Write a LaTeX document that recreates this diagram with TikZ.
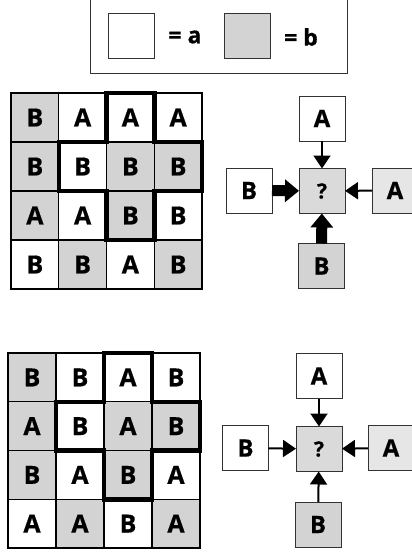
\documentclass[tikz,border=0pt]{standalone}
\usepackage{fontspec}
\setmainfont{Open Sans}[BoldFeatures={FakeBold=0.6}]
\usetikzlibrary{arrows.meta}
\definecolor{cellgray}{HTML}{D3D3D3}
\definecolor{qgray}{HTML}{DADADA}
\definecolor{lightgray2}{HTML}{E6E6E6}
\definecolor{boxline}{HTML}{333333}
\tikzset{
  cellbox/.style={draw=black, line width=1.1pt, minimum width=47.75pt, minimum height=49pt, inner sep=0pt, outer sep=0pt, font=\fontsize{25}{25}\selectfont\bfseries},
  cellboxb/.style={cellbox, minimum width=48pt, minimum height=48.75pt},
  plusline/.style={line width=4.5pt, line join=miter, line cap=rect},
  diabox/.style={draw=boxline, line width=1pt, minimum width=46pt, minimum height=45pt, inner sep=0pt, outer sep=0pt, font=\fontsize{24}{24}\selectfont\bfseries},
  thinarrow/.style={line width=2pt, -{Triangle[length=13pt, width=17pt]}},
  thickarrow/.style={line width=11pt, -{Triangle[length=14pt, width=22pt]}},
  legsq/.style={draw=boxline, line width=0.9pt, minimum width=46pt, minimum height=45pt, inner sep=0pt},
  legtext/.style={font=\fontsize{23}{23}\selectfont\bfseries, inner sep=0pt}
}
\begin{document}
\begin{tikzpicture}[x=1pt,y=-1pt]
\useasboundingbox (0,0) rectangle (412,552);
\clip (0,0) rectangle (412,552);
% legend
\draw[draw=boxline, line width=0.9pt] (90,-5) rectangle (347,73);
\node[legsq, fill=white] (lega) at (131,35.5) {};
\node[legtext] (legat) at (185,37) {= a};
\node[legsq, fill=cellgray] (legb) at (247.5,35.5) {};
\node[legtext] (legbt) at (301,37) {= b};

% grid 1
\foreach \r/\c/\f/\t in {
 1/1/cellgray/B, 1/2/white/A, 1/3/white/A, 1/4/white/A,
 2/1/cellgray/B, 2/2/white/B, 2/3/cellgray/B, 2/4/cellgray/B,
 3/1/cellgray/A, 3/2/white/A, 3/3/cellgray/B, 3/4/white/B,
 4/1/white/B, 4/2/cellgray/B, 4/3/white/A, 4/4/cellgray/B}
 \node[cellbox, fill=\f] (ga-\r-\c) at ({11+47.75*(\c-0.5)},{93+49*(\r-0.5)}) {\t};
\draw[plusline] (ga-1-3.north west) -- (ga-1-3.north east) -- (ga-2-3.north east)
  -- (ga-2-4.north east) -- (ga-2-4.south east) -- (ga-3-3.north east) -- (ga-3-3.south east)
  -- (ga-3-3.south west) -- (ga-2-3.south west) -- (ga-2-2.south west) -- (ga-2-2.north west)
  -- (ga-2-3.north west) -- cycle;

% grid 2
\foreach \r/\c/\f/\t in {
 1/1/cellgray/B, 1/2/white/B, 1/3/white/A, 1/4/white/B,
 2/1/cellgray/A, 2/2/white/B, 2/3/cellgray/A, 2/4/cellgray/B,
 3/1/cellgray/B, 3/2/white/A, 3/3/cellgray/B, 3/4/white/A,
 4/1/white/A, 4/2/cellgray/A, 4/3/white/B, 4/4/cellgray/A}
 \node[cellboxb, fill=\f] (gb-\r-\c) at ({8+48*(\c-0.5)},{353+48.75*(\r-0.5)}) {\t};
\draw[plusline] (gb-1-3.north west) -- (gb-1-3.north east) -- (gb-2-3.north east)
  -- (gb-2-4.north east) -- (gb-2-4.south east) -- (gb-3-3.north east) -- (gb-3-3.south east)
  -- (gb-3-3.south west) -- (gb-2-3.south west) -- (gb-2-2.south west) -- (gb-2-2.north west)
  -- (gb-2-3.north west) -- cycle;

% diagram 1
\node[diabox, fill=white] (t1) at (322,118.5) {A};
\node[diabox, fill=qgray, font=\fontsize{21}{21}\selectfont\bfseries] (q1) at (322,191) {?};
\node[diabox, fill=white] (l1) at (249,190.5) {B};
\node[diabox, fill=lightgray2] (r1) at (395,190.5) {A};
\node[diabox, fill=cellgray] (b1) at (321.5,266) {B};
\draw[thinarrow] (t1) -- (q1);
\draw[thickarrow] (l1) -- (q1);
\draw[thinarrow] (r1) -- (q1);
\draw[thickarrow] (b1) -- (q1);

% diagram 2
\node[diabox, fill=white] (t2) at (319,376) {A};
\node[diabox, fill=qgray, font=\fontsize{21}{21}\selectfont\bfseries] (q2) at (319,449) {?};
\node[diabox, fill=white] (l2) at (245.5,448) {B};
\node[diabox, fill=lightgray2] (r2) at (391,448) {A};
\node[diabox, fill=cellgray] (b2) at (318,524.5) {B};
\draw[thinarrow] (t2) -- (q2);
\draw[thinarrow] (l2) -- (q2);
\draw[thinarrow] (r2) -- (q2);
\draw[thinarrow] (b2) -- (q2);
\end{tikzpicture}
\end{document}
